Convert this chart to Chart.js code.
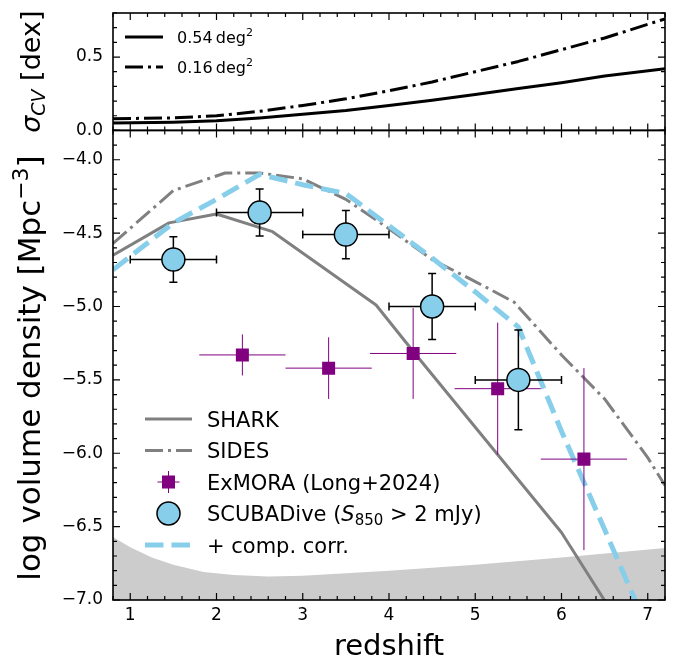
<!DOCTYPE html>
<html lang="en">
<head>
<meta charset="UTF-8">
<title>SMG volume density vs redshift</title>
<script src="https://cdn.jsdelivr.net/npm/chart.js@4.4.0/dist/chart.umd.min.js"></script>
<style>
  html, body { margin: 0; padding: 0; background: #fff; }
  #wrap { position: relative; width: 678px; height: 663px; }
</style>
</head>
<body>
<div id="wrap"><canvas id="chart" width="678" height="663"></canvas></div>
<script>
// ---- data ----
// top panel: cosmic variance
const cvZ    = [0.8, 1.5, 2.0, 2.5, 3.0, 3.5, 4.0, 4.5, 5.0, 5.5, 6.0, 6.5, 7.2];
const cv054  = [0.05, 0.055, 0.065, 0.085, 0.11, 0.135, 0.17, 0.205, 0.245, 0.285, 0.325, 0.37, 0.42];
const cv016  = [0.08, 0.085, 0.10, 0.13, 0.17, 0.215, 0.27, 0.33, 0.40, 0.47, 0.55, 0.63, 0.76];

// bottom panel
const sharkZ = [0.8, 1.45, 2.0, 2.65, 3.85, 4.3, 6.0, 6.55];
const sharkV = [-4.65, -4.43, -4.37, -4.49, -4.99, -5.32, -6.54, -7.05];

const sidesZ = [0.8, 1.5, 2.1, 2.5, 3.0, 3.5, 4.0, 4.5, 5.0, 5.45, 6.0, 6.5, 7.0, 7.2];
const sidesV = [-4.57, -4.21, -4.09, -4.09, -4.13, -4.27, -4.47, -4.68, -4.83, -4.97, -5.33, -5.63, -6.03, -6.22];

const compZ  = [0.8, 1.5, 2.0, 2.5, 3.0, 3.5, 4.0, 4.5, 5.0, 5.5, 6.0, 6.5, 7.0];
const compV  = [-4.75, -4.43, -4.27, -4.10, -4.17, -4.23, -4.45, -4.67, -4.90, -5.14, -5.85, -6.52, -7.2];

const floorZ = [0.8, 1.0, 1.25, 1.5, 1.85, 2.2, 2.6, 3.0, 4.0, 5.0, 6.0, 7.2];
const floorV = [-6.57, -6.64, -6.71, -6.76, -6.81, -6.83, -6.84, -6.835, -6.80, -6.76, -6.71, -6.645];

const exZ    = [2.3, 3.3, 4.28, 5.26, 6.26];
const exV    = [-5.33, -5.42, -5.32, -5.56, -6.04];
const exZErr = [0.5, 0.5, 0.5, 0.5, 0.5];
const exVErr = [0.14, 0.21, 0.31, 0.45, 0.62];

const scZ    = [1.5, 2.5, 3.5, 4.5, 5.5];
const scV    = [-4.68, -4.36, -4.51, -5.00, -5.50];
const scZErr = [0.5, 0.5, 0.5, 0.5, 0.5];
const scVErr = [0.155, 0.16, 0.165, 0.225, 0.34];

// ticks
const xMajor   = [1, 2, 3, 4, 5, 6, 7];
const ySigTick = [0.0, 0.5];
const yLogTick = [-7.0, -6.5, -6.0, -5.5, -5.0, -4.5, -4.0];

const FONT = 'DejaVu Sans';
const GRAY = '#808080';
const SKY = '#87CEEB';
const PURPLE = '#800080';

function pts(zs, vs) { return zs.map((z, i) => ({ x: z, y: vs[i] })); }
function fmt(v) { return (v < 0 ? '\u2212' : '') + Math.abs(v).toFixed(1); }

// error bars, drawn just before the dataset's markers
const errorBars = {
  id: 'errorBars',
  beforeDatasetDraw(chart, args) {
    const ds = chart.data.datasets[args.index];
    if (!ds.err) return;
    const c = chart.ctx, xs = chart.scales.x, ys = chart.scales.y;
    c.save();
    c.strokeStyle = ds.err.color;
    c.lineWidth = ds.err.width;
    ds.data.forEach((p, i) => {
      const x0 = xs.getPixelForValue(p.x - ds.err.dx[i]), x1 = xs.getPixelForValue(p.x + ds.err.dx[i]);
      const y0 = ys.getPixelForValue(p.y - ds.err.dy[i]), y1 = ys.getPixelForValue(p.y + ds.err.dy[i]);
      const px = xs.getPixelForValue(p.x), py = ys.getPixelForValue(p.y);
      c.beginPath();
      c.moveTo(x0, py); c.lineTo(x1, py);
      c.moveTo(px, y0); c.lineTo(px, y1);
      const k = ds.err.cap;
      if (k) {
        c.moveTo(x0, py - k); c.lineTo(x0, py + k);
        c.moveTo(x1, py - k); c.lineTo(x1, py + k);
        c.moveTo(px - k, y0); c.lineTo(px + k, y0);
        c.moveTo(px - k, y1); c.lineTo(px + k, y1);
      }
      c.stroke();
    });
    c.restore();
  }
};

// frame + inward ticks (matplotlib style), both panels
const frameTicks = {
  id: 'frameTicks',
  afterDatasetsDraw(chart) {
    const c = chart.ctx, xs = chart.scales.x, a = chart.chartArea;
    const panels = [
      { s: chart.scales.ySig, lo: 0, hi: 8 },
      { s: chart.scales.y, lo: -70, hi: -38 }
    ];
    c.save();
    c.strokeStyle = '#000';
    panels.forEach(p => {
      const top = p.s.top, bot = p.s.bottom;
      c.lineWidth = 1.2;
      c.beginPath();
      for (let k = 4; k <= 36; k++) {
        const px = xs.getPixelForValue(k / 5), len = k % 5 === 0 ? 7 : 4;
        c.moveTo(px, bot); c.lineTo(px, bot - len);
        c.moveTo(px, top); c.lineTo(px, top + len);
      }
      for (let k = p.lo; k <= p.hi; k++) {
        const py = p.s.getPixelForValue(k / 10), len = k % 5 === 0 ? 7 : 4;
        c.moveTo(a.left, py); c.lineTo(a.left + len, py);
        c.moveTo(a.right, py); c.lineTo(a.right - len, py);
      }
      c.stroke();
      c.lineWidth = 1.6;
      c.strokeRect(a.left, top, a.right - a.left, bot - top);
    });
    c.restore();
  }
};

function drawRuns(c, runs, x, y, center) {
  let w = 0;
  runs.forEach(r => { c.font = r.font; r.w = c.measureText(r.t).width; w += r.w; });
  let cx = center ? x - w / 2 : x;
  runs.forEach(r => { c.font = r.font; c.fillText(r.t, cx, y + (r.dy || 0)); cx += r.w; });
}

function lineHandle(c, x0, x1, y, color, width, dash) {
  c.save();
  c.strokeStyle = color; c.lineWidth = width; c.setLineDash(dash);
  c.beginPath(); c.moveTo(x0, y); c.lineTo(x1, y); c.stroke();
  c.restore();
}

// axis titles and legends
const annotations = {
  id: 'annotations',
  afterDraw(chart) {
    const c = chart.ctx, a = chart.chartArea;
    const ySig = chart.scales.ySig, y = chart.scales.y;
    c.save();
    c.fillStyle = '#000';
    c.textAlign = 'left';
    c.textBaseline = 'alphabetic';

    // y titles (rotated)
    c.save();
    c.translate(40, (ySig.top + ySig.bottom) / 2);
    c.rotate(-Math.PI / 2);
    drawRuns(c, [
      { t: '\u03C3', font: 'italic 27px ' + FONT },
      { t: 'CV', font: 'italic 19px ' + FONT, dy: 5 },
      { t: ' [dex]', font: '27px ' + FONT }
    ], 0, 0, true);
    c.restore();

    c.save();
    c.translate(40, 368);
    c.rotate(-Math.PI / 2);
    drawRuns(c, [
      { t: 'log volume density [Mpc', font: '31px ' + FONT },
      { t: '\u22123', font: '22px ' + FONT, dy: -12 },
      { t: ']', font: '31px ' + FONT }
    ], 0, 0, true);
    c.restore();

    // x title
    drawRuns(c, [{ t: 'redshift', font: '29px ' + FONT }], (a.left + a.right) / 2, 655, true);

    // top legend
    lineHandle(c, 125, 163, 37, '#000', 3, []);
    lineHandle(c, 125, 163, 67, '#000', 3, [18, 5, 3, 5]);
    drawRuns(c, [{ t: '0.54\u2009deg', font: '16px ' + FONT }, { t: '2', font: '11px ' + FONT, dy: -7 }], 177, 43);
    drawRuns(c, [{ t: '0.16\u2009deg', font: '16px ' + FONT }, { t: '2', font: '11px ' + FONT, dy: -7 }], 177, 73);

    // bottom legend
    const hx0 = 145, hx1 = 192, hc = 168.5, tx = 207;
    const rows = [419, 450.5, 482, 513.5, 545];
    const F = '21px ' + FONT;
    lineHandle(c, hx0, hx1, rows[0], GRAY, 3, []);
    lineHandle(c, hx0, hx1, rows[1], GRAY, 3, [18, 5, 3, 5]);
    c.save();
    c.strokeStyle = PURPLE; c.lineWidth = 1;
    c.beginPath();
    c.moveTo(hc - 11, rows[2]); c.lineTo(hc + 11, rows[2]);
    c.moveTo(hc, rows[2] - 11); c.lineTo(hc, rows[2] + 11);
    c.stroke();
    c.fillStyle = PURPLE;
    c.fillRect(hc - 6.5, rows[2] - 6.5, 13, 13);
    c.beginPath();
    c.arc(hc, rows[3], 11.5, 0, 2 * Math.PI);
    c.fillStyle = SKY; c.fill();
    c.strokeStyle = '#000'; c.lineWidth = 1.5; c.stroke();
    c.restore();
    lineHandle(c, hx0, hx1, rows[4], SKY, 5, [18.5, 8]);

    c.fillStyle = '#000';
    drawRuns(c, [{ t: 'SHARK', font: F }], tx, rows[0] + 7.5);
    drawRuns(c, [{ t: 'SIDES', font: F }], tx, rows[1] + 7.5);
    drawRuns(c, [{ t: 'ExMORA (Long+2024)', font: F }], tx, rows[2] + 7.5);
    drawRuns(c, [
      { t: 'SCUBADive (', font: F },
      { t: 'S', font: 'italic ' + F },
      { t: '850', font: '15px ' + FONT, dy: 4 },
      { t: ' > 2 mJy)', font: F }
    ], tx, rows[3] + 7.5);
    drawRuns(c, [{ t: '+ comp. corr.', font: F }], tx, rows[4] + 7.5);
    c.restore();
  }
};

const tickFont = { family: FONT, size: 17 };

new Chart(document.getElementById('chart'), {
  type: 'line',
  data: {
    datasets: [
      { label: 'detection floor', data: pts(floorZ, floorV), yAxisID: 'y', order: 10,
        borderWidth: 0, backgroundColor: '#cccccc', fill: 'start' },
      { label: 'SHARK', data: pts(sharkZ, sharkV), yAxisID: 'y', order: 9,
        borderColor: GRAY, borderWidth: 3, fill: false },
      { label: 'SIDES', data: pts(sidesZ, sidesV), yAxisID: 'y', order: 8,
        borderColor: GRAY, borderWidth: 3, borderDash: [18, 5, 3, 5], fill: false },
      { label: '+ comp. corr.', data: pts(compZ, compV), yAxisID: 'y', order: 7,
        borderColor: SKY, borderWidth: 5, borderDash: [18.5, 8], fill: false },
      { label: '0.54 deg2', data: pts(cvZ, cv054), yAxisID: 'ySig', order: 6,
        borderColor: '#000', borderWidth: 3, fill: false },
      { label: '0.16 deg2', data: pts(cvZ, cv016), yAxisID: 'ySig', order: 6,
        borderColor: '#000', borderWidth: 3, borderDash: [18, 5, 3, 5], fill: false },
      { type: 'scatter', label: 'ExMORA (Long+2024)', data: pts(exZ, exV), yAxisID: 'y', order: 2,
        pointStyle: 'rect', pointRadius: 9.2, pointBackgroundColor: PURPLE, pointBorderWidth: 0,
        err: { dx: exZErr, dy: exVErr, color: PURPLE, width: 1, cap: 0 } },
      { type: 'scatter', label: 'SCUBADive', data: pts(scZ, scV), yAxisID: 'y', order: 1,
        pointStyle: 'circle', pointRadius: 11.5, pointBackgroundColor: SKY,
        pointBorderColor: '#000', pointBorderWidth: 1.5,
        err: { dx: scZErr, dy: scVErr, color: '#000', width: 1.5, cap: 4 } }
    ]
  },
  options: {
    responsive: false,
    animation: false,
    layout: { padding: { top: 10, right: 13, bottom: 0, left: 0 } },
    elements: { point: { radius: 0, hoverRadius: 0 }, line: { tension: 0, borderJoinStyle: 'round' } },
    plugins: { legend: { display: false }, tooltip: { enabled: false } },
    scales: {
      x: {
        type: 'linear', min: 0.8, max: 7.2,
        grid: { display: false, drawTicks: false },
        border: { display: false },
        afterBuildTicks: s => { s.ticks = xMajor.map(v => ({ value: v })); },
        ticks: { font: tickFont, color: '#000', padding: 5, maxRotation: 0, callback: v => String(v) },
        afterFit: s => { s.height = 63; s.paddingLeft = 0; s.paddingRight = 0; }
      },
      // stacked panels: listed bottom first
      y: {
        type: 'linear', position: 'left', stack: 'panels', stackWeight: 4, min: -7.0, max: -3.8,
        grid: { display: false, drawTicks: false },
        border: { display: false },
        afterBuildTicks: s => { s.ticks = yLogTick.map(v => ({ value: v })); },
        ticks: { font: tickFont, color: '#000', padding: 10, callback: v => fmt(v) },
        afterFit: s => { s.width = 113; s.paddingTop = 0; s.paddingBottom = 0; }
      },
      ySig: {
        type: 'linear', position: 'left', stack: 'panels', stackWeight: 1, min: 0, max: 0.8,
        grid: { display: false, drawTicks: false },
        border: { display: false },
        afterBuildTicks: s => { s.ticks = ySigTick.map(v => ({ value: v })); },
        ticks: { font: tickFont, color: '#000', padding: 10, callback: v => fmt(v) },
        afterFit: s => { s.width = 113; s.paddingTop = 0; s.paddingBottom = 0; }
      }
    }
  },
  plugins: [errorBars, frameTicks, annotations]
});
</script>
</body>
</html>
